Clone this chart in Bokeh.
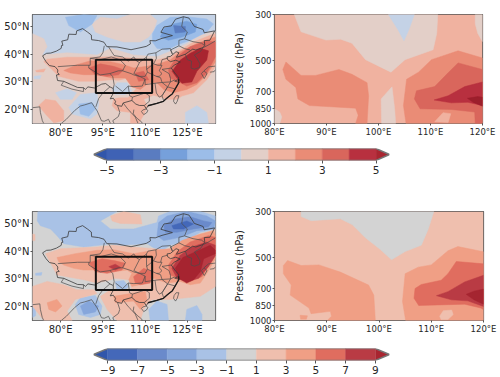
from bokeh.plotting import figure
from bokeh.layouts import column, row
from bokeh.models import Range1d, Label, FixedTicker
from bokeh.embed import file_html
from bokeh.resources import INLINE

# ---- map panels: contour regions as (lon, lat) outlines
a_tan = [
 [(70,47.4),(74,45.6),(75.2,42.7),(73.4,39.7),(82.3,40.5),(92.9,39.7),(97.7,42.1),(105.9,39.7),(114.2,39.1),(120.1,41.5),(124.8,43.8),(129.6,46.8),(135,48.3),(135,15),(70,15)],
 [(91.2,50.9),(94.1,53.3),(100,52.7),(104.8,54.3),(111.8,54.3),(114.2,52.1),(113,48.6),(111.3,46.2),(108.3,44.4),(102.4,44.4),(96.5,46.2),(92.3,48)],
]
a_n1 = [
 [(78.2,26.1),(82.3,27.5),(85.6,26.1),(84.1,23.7),(79.9,23.7)],
 [(82.9,20.8),(87,25.5),(92.9,26.1),(93.5,22),(92.9,18.4),(90.6,16.7),(84.1,18.4)],
 [(124.3,15),(124.3,19),(128.4,21.4),(131.9,19),(132.5,15)],
 [(70.5,32),(73.1,32.3),(72.6,31.1),(70.5,31.1)],
]
a_n2 = [
 [(81.7,53.3),(88.2,54.3),(92.9,53.9),(91.2,50.9),(87,48),(82.9,50.3)],
 [(112.6,47.4),(114.2,50.3),(118.9,53.3),(124.8,53.5),(131.9,52.7),(134.3,50.9),(131.9,48),(126,45),(121.3,43.3),(117.8,41.5),(114.2,42.1),(112.6,44.4)],
 [(86.4,22),(91.2,22.6),(92.3,20.2),(90,17.6),(87,18.4)],
]
a_n3 = [[(116.6,49.2),(120.1,50.9),(124.8,51.9),(128.4,50.7),(127.8,48),(123.1,46.2),(118.3,45),(115.4,46.2)]]
a_n4 = [[(120.1,50.3),(124.3,50),(124.3,48),(120.7,47.6)]]
a_p1 = [
 [(72.2,21.4),(74.6,23.7),(78.2,23.2),(81.1,19.6),(81.1,16.1),(77.6,15.2),(74.6,18.4)],
 [(71.1,34.1),(74.6,34.7),(74,33.6),(71.4,33.6)],
 [(75.2,38.2),(82.3,38.9),(90.6,38.9),(98.8,39.1),(105.9,38.5),(114.2,37.9),(118.9,39.1),(122.5,41.5),(127.2,44.4),(133.1,46.8),(135,47.4),(135,35.6),(131.9,30.8),(129.6,28.5),(127.2,26.1),(123.1,24.9),(121.3,23.7),(117.8,23.7),(113,25.2),(109.5,23.7),(110.7,21.4),(109.7,18.4),(107.7,15),(104.8,15),(104.8,19),(100,19.6),(98.3,21.4),(98.8,23.7),(104.2,25.5),(105.9,27.9),(105.3,30.2),(97.7,30.8),(92.3,30.2),(86.4,30.2),(79.3,32),(76.4,35),(74,37.3)],
]
a_tan_b = [[(96,29),(103,31),(107,28),(104,24.5),(98,24.5)]]
a_n1_b = [[(98.3,27.3),(100,29.7),(103.6,29.7),(105.3,26.7),(103,25.5),(99.4,25.5)]]
a_p2 = [[(81.1,34.1),(85.8,36.2),(90.6,37.6),(97.7,37.3),(102.4,36.2),(105.9,35),(110.7,35.6),(115.4,36.7),(118.9,37.9),(122.5,40.9),(128.4,43.8),(133.1,45.6),(135,46.2),(135,37.3),(131.9,32.6),(128.4,29.1),(124.8,27.3),(120.1,26.1),(116.6,27.3),(114.2,29.7),(111.3,29.7),(108.3,27.3),(105.3,28.2),(103,31.4),(98.3,31.4),(92.9,32.6),(88.2,32.6),(83.5,33.2)]]
a_p3 = [
 [(90,35),(94.1,36.5),(98.8,35.6),(102.4,34.4),(100.6,32.6),(96.5,32),(92.3,32.6)],
 [(106.5,33.2),(109.5,33.8),(111.3,30.8),(107.7,30.2)],
 [(118.3,34.4),(121.3,39.1),(126,42.7),(131.9,44.8),(135,44.4),(135,39.1),(131.9,33.2),(128.4,29.7),(124.8,28.5),(122.5,29.7),(118.9,31.4)],
]
a_p4 = [[(119.6,33.8),(122.5,37.9),(126,40.3),(129.6,42.1),(132.5,41.2),(131.9,37.9),(128.4,33.8),(126.6,30),(123.1,29.5),(121.3,31.4)]]

c_n1 = [
 [(71.7,50.9),(71.9,54.3),(100,54.3),(94.1,50.9),(97.7,48),(105.9,48),(114.2,50.3),(114.8,52.7),(118.9,54.3),(129.6,54.3),(135,52.7),(135,48),(129.6,46.8),(124.8,43.8),(118.9,42.1),(115.4,39.7),(110.7,42.7),(101.2,42.1),(97.7,42.7),(93.5,42.1),(88.2,41.5),(81.1,42.7),(78.7,45.6),(76.4,48),(72.8,49.2)],
 [(85.2,20.8),(87,23.2),(92.3,24),(94.7,20.2),(94.1,17.2),(90.6,16.1),(86.4,17.2)],
 [(111.8,15),(111.3,19),(114.2,22),(117.8,20.8),(118.3,15)],
 [(124.3,15),(124.8,19),(128.4,20.4),(130.2,17.2),(130.2,15)],
 [(80.5,24.9),(82.3,26.7),(84.1,26.1),(83.2,24),(81.7,24)],
 [(71.1,32),(73.4,32.3),(73.1,31.3),(71.1,31.3)],
 [(70,21.4),(71.1,20.2),(71.1,16.7),(70,16.1)],
]
c_n2 = [
 [(114.8,50.3),(117.8,52.7),(124.8,54.3),(131.9,52.7),(135,50.9),(134.3,48),(128.4,47.4),(122.5,45),(116.6,43.8),(114.2,45.6)],
 [(87,20.2),(90,22),(93.5,20.2),(92.3,18.1),(88.2,17.2)],
]
c_n3 = [[(116.6,49.2),(120.1,51.5),(126,52.4),(130.8,50.9),(133.7,50.3),(132.5,48.8),(127.2,48),(121.3,46.8),(117.2,46.8)]]
c_n4 = [[(119.5,49.2),(124.8,50.9),(127.2,49.8),(123.7,48),(120.1,48)]]
c_p1 = [
 [(97.7,52.7),(102.4,54.3),(108.3,53.1),(108.9,49.8),(101.2,50),(98.3,50.9)],
 [(70,46.2),(70.9,46),(70.9,43.8),(70,43.8)],
 [(74.6,39.1),(79.9,40.9),(92.9,41.5),(98.8,42.1),(105.9,41.5),(113,40.9),(117.8,40.3),(122.5,42.7),(127.2,45),(134.3,47.6),(135,48),(135,27.3),(129.6,23.7),(118.9,22.6),(111.8,22.6),(105.9,23.7),(105.3,26.1),(104.2,29.7),(99.4,30.2),(97.7,29.7),(92.9,28.5),(88.2,29.7),(78.7,31.4)],
 [(70,27.3),(75.2,29.1),(81.1,27.9),(85.8,26.1),(91.8,26.1),(92.9,24.7),(85.2,22.6),(82.3,18.4),(84.1,15),(74,15),(70,20.2)],
 [(94.1,23.7),(97.7,26.1),(105.9,25.5),(111.8,25.5),(114.2,23.7),(111.8,22),(109.5,19),(108.3,15),(100,15),(96.5,19)],
]
c_n1_b = [[(99.4,29.1),(102.4,29.4),(104.2,27.3),(103,26.1),(100,26.1)]]
c_p2 = [
 [(78.7,37.7),(85.2,39.1),(92.9,40.3),(98.8,40.5),(105.9,39.1),(113,40.3),(118.9,40.9),(123.1,43.8),(129.6,46.2),(134.3,47.4),(135,45.6),(135,37.3),(131.9,32),(129.6,28.5),(126,27.9),(122.5,29.1),(117.8,28.5),(113,30.2),(110.7,28.5),(105.3,27.3),(104.2,29.7),(105.3,32),(103.6,33.2),(98.8,32.6),(94.1,33.2),(88.2,33.2),(84.7,33.8),(81.1,35),(79.3,36.2)],
 [(98.8,23.7),(105.9,24.9),(110.1,25.5),(110.7,22),(108.3,19),(105.9,22),(99.4,21.4)],
 [(75.2,21.4),(78.7,22.6),(80.5,20.2),(78.2,18.1),(75.8,19)],
]
c_p3 = [
 [(90,35.8),(94.7,37.3),(99.4,36.5),(103,35.6),(101.8,33.2),(96.5,32),(92.3,32.6)],
 [(105.9,30.8),(109.5,33.8),(112.4,32.6),(111.8,28.5),(108.3,27.9),(106.5,28.5)],
 [(118.3,35),(121.3,39.7),(126,43.3),(132.5,45.6),(135,45),(135,38.5),(131.9,33.8),(130.2,30.8),(126,29.1),(121.9,30.2),(118.9,31.4)],
]
c_p4 = [
 [(97.1,34.4),(99.4,35.3),(101.4,34.1),(99.4,33.2)],
 [(119.5,33.8),(122.5,38.5),(126.6,41.5),(131.9,43.3),(135,42.1),(135,38.5),(132.5,34.4),(129,30.2),(124.8,29.1),(121.3,30.2)],
]
c_p5 = [[(120.7,33.8),(123.4,37.7),(127.8,39.7),(133.1,42.1),(135,40.3),(135,39.1),(130.8,37.3),(129.6,32.6),(127.2,29.7),(124.8,28.5),(121.9,30.2)]]

# ---- cross sections: (lon, pressure)
b_tan = [
 [(83.8,300),(85.1,363),(89.9,398),(92.7,394),(94.9,412),(97.5,494),(102.4,567),(105.1,494),(110.5,443),(111.2,370),(111.4,300)],
 [(118.6,300),(120,300),(120,405),(119.1,370),(118.6,332)],
 [(80,850),(81,881),(81.4,930),(81,1000),(80,1000)],
 [(100.6,1000),(100.5,762),(102.6,667),(103.1,850),(103.3,1000)],
]
b_n1 = [[(101.9,300),(106.9,300),(105.8,357),(104.9,401),(103.8,357)]]
b_p2 = [
 [(82.2,507),(81.6,551),(82.2,614),(84.1,672),(84.5,762),(86.7,820),(95.6,844),(96.1,914),(95.6,1000),(97.8,1000),(98.1,736),(97.8,637),(94.9,581),(92.4,551),(87.9,588),(85.1,588)],
 [(105.3,1000),(104.8,820),(105.4,614),(107.7,567),(110.2,494),(115.3,448),(120,485),(120,1000)],
]
b_p1 = [[(110.8,982),(112.4,887),(113.9,897),(113.4,989)]]
b_p3 = [[(106.9,762),(107.3,697),(110.8,665),(113.4,571),(115.3,512),(120,551),(120,1000),(118.6,1000),(118.5,881),(114,856),(108,850)]]
b_p4 = [[(110.7,771),(113.4,736),(116.6,665),(120,632),(120,820),(117.2,791),(114,796)]]
b_p5 = [[(117.1,757),(119.1,743),(120,749),(120,826),(118.2,791)]]

d_gray = [[(85.1,300),(85.1,317),(87,332),(92.6,325),(94.9,347),(97.4,401),(100.2,455),(102.4,511),(105,467),(108.1,435),(109.4,366),(110.5,300)]]
d_p2 = [
 [(82.5,516),(81.7,545),(81.7,596),(83.2,676),(83,755),(86.6,871),(87,927),(90.7,904),(90.9,954),(90.1,1000),(99.3,1000),(99,755),(98,676),(92.6,586),(88.5,541),(85.1,545)],
 [(84.9,944),(86.3,950),(86.1,985),(85,985)],
 [(105.1,1000),(104.5,811),(105,596),(107.5,555),(110,541),(113.2,463),(115.1,442),(120,468),(120,1000)],
]
d_p1 = [[(111.6,954),(112.3,897),(113.9,891),(114.2,937),(113.2,989),(111.9,989)]]
d_p3 = [[(106.7,782),(106.9,702),(108.1,672),(111.9,641),(113.2,596),(114.8,521),(120,535),(120,887),(119.5,871),(116.4,835),(107.6,847)]]
d_p4 = [[(111,760),(113.2,727),(116.4,653),(120,607),(120,856),(117,805),(113.9,796)]]
d_p5 = [[(116.7,749),(118.2,723),(120,707),(120,835),(118.2,796)]]

# ---- map lines: (lon, lat)
china = [(73.6,39.4),(75,40.3),(76.5,40.4),(78.5,41.1),(80.2,42.1),(80.3,43.1),(80.8,43.2),(80.4,44.7),(82.5,45.2),(82.9,47.2),(85.5,47.1),(85.7,48.4),(87.8,49.2),(89.5,48),(90.9,46.9),(91,45.2),(93.5,44.9),(95.4,44.3),(96.4,42.7),(100,42.6),(105,41.6),(110.4,42.8),(111.9,43.7),(111.7,44.9),(113.6,44.8),(116,45.7),(119.7,46.7),(115.6,47.9),(116.7,49.8),(119.3,50.2),(120.8,52.6),(123.6,53.5),(125.6,53),(127.5,50),(130.6,48.9),(131,47.7),(134.7,48.4),(133,45),(131,44.9),(131.2,43.2),(130.6,42.4),(128,41.5),(126.9,41.8),(124.3,40),(121.6,39),(121.1,38.9),(122,40.5),(121,40.9),(119,39.2),(117.8,39),(118,38),(119,37.3),(120.8,37.8),(122.5,37.2),(120.3,36),(119.3,35),(120.9,32.7),(121.9,31.7),(121.9,30.9),(120.5,30.3),(122,29.8),(121,28),(119.6,25.6),(118,24.4),(116.5,23),(114.2,22.3),(111,21.4),(110.4,20.3),(109.7,21.5),(108,21.5),(106.7,22),(105.3,23.3),(102.2,22.4),(101.7,21.2),(100.2,21.5),(99.2,22.1),(99.5,23),(98.7,24.1),(97.6,23.9),(98.7,25.9),(98.7,27.6),(97.5,28.2),(96,29.4),(94.6,29.2),(92,27.8),(89.7,28.2),(88.8,27.3),(88.1,27.9),(86,28),(84,28.9),(81.1,30.2),(78.9,30.5),(78.5,32.5),(79.5,32.7),(78.9,33.4),(79,34.3),(78,35.5),(76,35.9),(74.8,37.3),(74,38.6),(73.6,39.4)]
provinces = [
 [(79,35.5),(86,36),(90.5,36),(90.5,38.5),(94,39),(95,40.5),(95.5,43)],
 [(90,36),(90,35),(94,32.5),(97.5,33),(98.5,32),(99,29),(98.7,27.6)],
 [(90.5,38.5),(94,38),(98,39),(101,38),(103,36),(102,34),(100.5,34),(97.5,33)],
 [(97,42.7),(98,41),(99,39.5),(102,39),(104,37.5),(106,39),(107,37.5),(108,37),(110.5,39),(111,40),(113.8,40.5),(116,41.8),(119,42),(119.7,40)],
 [(110.5,39),(110.5,35),(110.8,33.5),(110,32),(108,32),(106,33),(107,35),(108,37)],
 [(102,34),(105,33),(106,32.5),(108,32),(110,31),(109,28.5),(106,28.3),(104,28.5),(102,26.5),(99.5,28.5)],
 [(104,28.5),(104.5,25),(105.5,24.5),(105.3,23.3)],
 [(109.7,21.5),(111.5,23),(111.5,25),(110,26),(108.5,25.5),(105.5,24.5)],
 [(110,31),(110,29),(113.5,29.5),(116,29.8),(115.5,31.5),(114,32),(110.8,33.5)],
 [(110.5,34.5),(113,36.5),(114.5,36),(116,36),(115,34),(116,33),(115,32),(114,32)],
 [(113.5,29.5),(114,26),(115,24.5),(116,25),(118,28.2),(116,29.8)],
 [(116.5,23.5),(116,25),(118,28.2),(120.5,27.5)],
 [(118,28.2),(119,30),(120.5,30.7)],
 [(116,29.8),(119,30),(119,31.3),(118.5,33),(116,34.5),(119.3,35)],
 [(115.5,36),(116,38),(117.8,38.5)],
 [(113,36.5),(114,38.5),(113.8,40.5)],
 [(119.7,40),(119,41.5),(122,43),(124,42),(126,41.5)],
 [(122,43),(122,45),(124,45.5),(127,44.5),(130,44),(131,43.2)],
 [(124,45.5),(125,48),(123,50),(123.6,53.5)],
]
coasts = [
 [(70,20.7),(72.6,21),(72.8,19),(73.5,16),(74,15)],
 [(80.2,15),(82,16.5),(85,19.7),(87,21.3),(88.5,21.7),(91,22.5),(92,21),(93,19.5),(94.5,16),(95.5,15.8),(97,16.5),(97.7,15)],
 [(106,20),(105.8,18.5),(107,17),(108.8,15.5),(109,15)],
 [(108.7,19.3),(109.5,18.2),(110.5,18.8),(111,19.7),(110.3,20.2),(109.2,19.9),(108.7,19.3)],
 [(121,25),(122,25),(121.4,23),(120.8,22),(120.1,23),(120.3,24),(121,25)],
 [(124.3,40),(125,38),(126.5,37.5),(126.3,35),(127.5,34.6),(129.3,35.2),(129.5,36.5),(128.4,38.5),(127.5,39.7),(129.7,41),(130.6,42.4)],
 [(130.9,34),(132.5,35.4),(135,35.7)],
 [(130,33),(131,31.2),(132,33),(130.9,34),(130,33)],
 [(133,33.5),(134.5,33.7),(135,34.4)],
 [(130.7,42.4),(132.3,43.2),(135,44.8)],
 [(81.1,30.2),(80.2,28.8),(84,27.4),(88.1,26.5),(88.1,27.9)],
 [(102.2,22.4),(104,20),(105,19),(106.5,17.3),(107.5,15)],
 [(100.2,21.5),(101,19),(100.5,17.5),(98.5,16),(99,15)],
 [(97.5,28.2),(95,26),(93.5,24),(92.5,21)],
]
coast_bold = [(121.9,30.9),(122,29.8),(121,28),(119.6,25.6),(118,24.4),(116.5,23),(114.2,22.3),(111,21.4)]
box_lon = [92.5, 112.5]
box_lat = [26, 38]

# ---- ticks and labels
lon_ticks_map = [80, 95, 110, 125]
lat_ticks = [20, 30, 40, 50]
lon_ticks_sec = [80, 90, 100, 110, 120]
p_ticks = [300, 500, 700, 850, 1000]
cb1_levels = [-5, -4, -3, -2, -1, 0, 1, 2, 3, 4, 5]
cb1_ticks = [-5, -3, -1, 1, 3, 5]
cb2_levels = [-9, -7, -5, -3, -1, 1, 3, 5, 7, 9]
cb2_ticks = [-9, -7, -5, -3, -1, 1, 3, 5, 7, 9]

# ---- colours
cols_a = ["#3f62b5", "#5a7cc0", "#76a0db", "#9cbde8", "#c4d2e6", "#e3cfc8", "#f0b2a0", "#ea8c76", "#d9665c", "#b8303f"]
cols_c = ["#4468b9", "#6a8acb", "#86a6db", "#a9c2e6", "#d3d3d3", "#efbfae", "#f09f85", "#e06d5f", "#b93b44"]
DEEP = "#a82530"
TIP_BLUE = "#3156ab"
FONT = "DejaVu Sans"
INK = "#262626"
SPINE = "#555555"


def style(p, xticks, xlabels, yticks, ylabels, xs, ys):
    p.xaxis.ticker = FixedTicker(ticks=xticks)
    p.yaxis.ticker = FixedTicker(ticks=yticks)
    p.xaxis.major_label_overrides = dict(zip(xticks, xlabels))
    p.yaxis.major_label_overrides = dict(zip(yticks, ylabels))
    p.xaxis.major_label_text_font_size = xs
    p.yaxis.major_label_text_font_size = ys
    for ax in (p.xaxis, p.yaxis):
        ax.major_label_text_font = FONT
        ax.major_label_text_color = INK
        ax.major_tick_in = 0
        ax.major_tick_out = 2
        ax.minor_tick_line_color = None
        ax.major_tick_line_color = SPINE
        ax.axis_line_color = None
        ax.major_label_standoff = 1
    p.grid.visible = False
    p.outline_line_color = SPINE
    p.outline_line_width = 1.2
    p.background_fill_color = "white"


def fill(p, polys, colour):
    xs = [[q[0] for q in poly] for poly in polys]
    ys = [[q[1] for q in poly] for poly in polys]
    p.patches(xs, ys, fill_color=colour, line_color=colour, line_width=0.5)


def lines(p, polys, colour, width):
    xs = [[q[0] for q in poly] for poly in polys]
    ys = [[q[1] for q in poly] for poly in polys]
    p.multi_line(xs, ys, line_color=colour, line_width=width)


def heads(p, x0, x1, y, left, right, size):
    p.add_layout(Label(x=x0, y=y, text=left, text_font=FONT, text_font_size=size, text_color=INK,
                       text_baseline="bottom", y_offset=0))
    p.add_layout(Label(x=x1, y=y, text=right, text_font=FONT, text_font_size=size, text_color=INK,
                       text_align="right", text_baseline="bottom", y_offset=0))


def map_panel(width, height, top, bottom, left, right, base, layers, lefttxt, righttxt):
    p = figure(width=width, height=height, min_border_left=left, min_border_right=right,
               min_border_top=top, min_border_bottom=bottom, toolbar_location=None, output_backend="svg",
               x_range=Range1d(70, 135), y_range=Range1d(15, 54.3))
    style(p, lon_ticks_map, [f"{v}°E" for v in lon_ticks_map], lat_ticks, [f"{v}°N" for v in lat_ticks], "10px", "10px")
    p.quad(left=70, right=135, bottom=15, top=54.3, fill_color=base, line_color=None)
    for polys, colour in layers:
        fill(p, polys, colour)
    lines(p, provinces, "#4a4a4a", 0.7)
    lines(p, coasts, "#4a4a4a", 0.7)
    lines(p, [china], "#3a3a3a", 0.8)
    lines(p, [coast_bold], "#1a1a1a", 1.3)
    p.quad(left=box_lon[0], right=box_lon[1], bottom=box_lat[0], top=box_lat[1],
           fill_color=None, line_color="#111111", line_width=2)
    heads(p, 70, 135, 54.3, lefttxt, righttxt, "10px")
    return p


def sec_panel(width, height, top, bottom, left, right, base, layers, lefttxt, righttxt):
    p = figure(width=width, height=height, min_border_left=left, min_border_right=right,
               min_border_top=top, min_border_bottom=bottom, toolbar_location=None, output_backend="svg",
               x_range=Range1d(80, 120), y_range=Range1d(1000, 300), y_axis_type="log")
    style(p, lon_ticks_sec, [f"{v}°E" for v in lon_ticks_sec], p_ticks, [str(v) for v in p_ticks], "8.5px", "8.5px")
    p.yaxis.axis_label = "Pressure (hPa)"
    p.yaxis.axis_label_text_font = FONT
    p.yaxis.axis_label_text_font_size = "10px"
    p.yaxis.axis_label_text_font_style = "normal"
    p.yaxis.axis_label_text_color = INK
    p.yaxis.axis_label_standoff = 2
    p.quad(left=80, right=120, bottom=1000, top=300, fill_color=base, line_color=None)
    for polys, colour in layers:
        fill(p, polys, colour)
    heads(p, 80, 120, 300, lefttxt, righttxt, "8.5px")
    return p


def bar(levels, ticks, colours, low, high, left, frame, height, top, bottom):
    p = figure(width=500, height=height, min_border_left=left, min_border_right=500 - left - frame,
               min_border_top=top, min_border_bottom=bottom, toolbar_location=None, output_backend="svg",
               x_range=Range1d(low, high), y_range=Range1d(0, 1))
    p.quad(left=levels[:-1], right=levels[1:], bottom=0, top=1, fill_color=colours, line_color=colours, line_width=0.5)
    p.patch([levels[0], low, levels[0]], [0, 0.5, 1], fill_color=TIP_BLUE, line_color=None)
    p.patch([levels[-1], high, levels[-1]], [0, 0.5, 1], fill_color=DEEP, line_color=None)
    p.line([levels[0], low, levels[0], levels[-1], high, levels[-1], levels[0]],
           [0, 0.5, 1, 1, 0.5, 0, 0], line_color="#777777", line_width=1.4)
    p.yaxis.visible = False
    p.grid.visible = False
    p.outline_line_color = None
    ax = p.xaxis
    ax.ticker = FixedTicker(ticks=ticks)
    ax.major_label_overrides = {v: (f"\u2212{-v}" if v < 0 else str(v)) for v in ticks}
    ax.major_label_text_font = FONT
    ax.major_label_text_font_size = "10.5px"
    ax.major_label_text_color = INK
    ax.major_tick_in = 0
    ax.major_tick_out = 3
    ax.minor_tick_line_color = None
    ax.major_tick_line_color = "#555555"
    ax.axis_line_color = None
    ax.major_label_standoff = 2
    return p


A, C = cols_a, cols_c
pa = map_panel(230, 140, 14, 15, 32, 15, A[4],
               [(a_tan, A[5]), (a_n1, A[4]), (a_n2, A[3]), (a_n3, A[2]), (a_n4, A[1]), (a_p1, A[6]),
                (a_tan_b, A[5]), (a_n1_b, A[4]),
                (a_p2, A[7]), (a_p3, A[8]), (a_p4, DEEP)], "(a)", "ppbv")
pb = sec_panel(270, 140, 14, 15, 42, 18, A[6],
               [(b_tan, A[5]), (b_n1, A[4]), (b_p2, A[7]), (b_p1, A[6]), (b_p3, A[8]), (b_p4, A[9]), (b_p5, "#9c1f2c")],
               "(b)", "ppbv")
cb1 = bar(cb1_levels, cb1_ticks, cols_a, -5.5, 5.5, 93, 296, 50, 8, 30)
pc = map_panel(230, 147, 21, 15, 32, 15, C[4],
               [(c_n1, C[3]), (c_n2, C[2]), (c_n3, C[1]), (c_n4, C[0]), (c_p1, C[5]), (c_n1_b, C[3]),
                (c_p2, C[6]), (c_p3, C[7]), (c_p4, C[8]), (c_p5, "#a62430")], "(c)", "%")
pd = sec_panel(270, 147, 21, 14, 42, 17, C[5],
               [(d_gray, C[4]), (d_p2, C[6]), (d_p1, C[5]), (d_p3, C[7]), (d_p4, C[8]), (d_p5, "#a52530")],
               "(d)", "%")
cb2 = bar(cb2_levels, cb2_ticks, cols_c, -9.95, 9.95, 92, 299, 40, 11, 17)

page = column(row(pa, pb, spacing=0), cb1, row(pc, pd, spacing=0), cb2, spacing=0)
open("out.html", "w").write(file_html(page, INLINE))
